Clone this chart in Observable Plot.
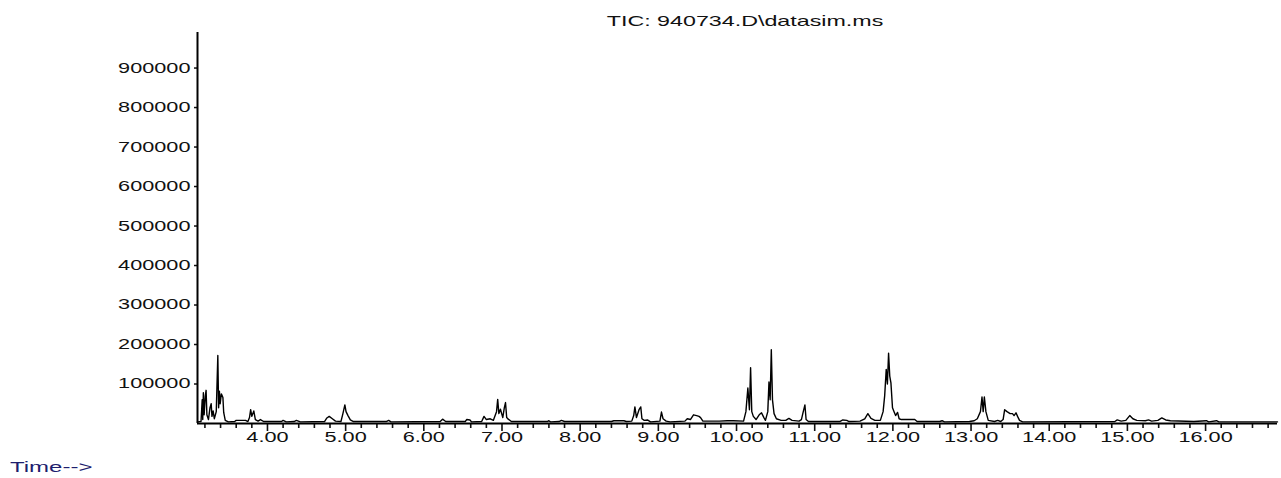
<!DOCTYPE html>
<html><head><meta charset="utf-8">
<script src="https://cdn.jsdelivr.net/npm/d3@7"></script>
<script src="https://cdn.jsdelivr.net/npm/@observablehq/plot@0.6"></script>
<style>
body{margin:0;background:#fff;}
#wrap{position:relative;width:1281px;height:478px;overflow:hidden;font-family:"Liberation Sans",Arial,sans-serif;}
#title{position:absolute;left:745px;top:12px;font-size:15px;line-height:17px;white-space:nowrap;transform:translateX(-50%) scaleX(1.55);color:#111;}
#xlab{position:absolute;left:10px;top:458px;font-size:15px;line-height:17px;white-space:nowrap;transform:scaleX(1.6);transform-origin:left center;color:#1e1e6e;}
</style></head><body>
<div id="wrap"><div id="chart"></div><div id="title">TIC: 940734.D\datasim.ms</div><div id="xlab">Time--&gt;</div></div>
<script>
// Retention times (min) and abundances
const times = [3.105,3.15,3.165,3.172,3.18,3.19,3.205,3.215,3.225,3.245,3.265,3.28,3.29,3.305,3.32,3.345,3.365,3.375,3.385,3.395,3.41,3.43,3.44,3.46,3.50,3.58,3.60,3.72,3.75,3.77,3.785,3.80,3.825,3.845,3.88,3.91,3.95,4.18,4.20,4.24,4.34,4.37,4.42,4.73,4.76,4.79,4.83,4.87,4.94,4.965,4.99,5.005,5.03,5.06,5.10,5.52,5.55,5.58,6.21,6.24,6.28,6.53,6.55,6.59,6.61,6.74,6.77,6.80,6.85,6.89,6.93,6.945,6.96,6.98,7.01,7.03,7.045,7.06,7.08,7.12,7.58,7.60,7.62,7.73,7.76,7.80,8.40,8.43,8.56,8.59,8.66,8.685,8.70,8.72,8.755,8.775,8.79,8.82,8.86,8.90,9.02,9.04,9.06,9.10,9.15,9.34,9.37,9.41,9.45,9.49,9.52,9.54,9.57,9.70,9.78,9.88,9.96,10.09,10.12,10.145,10.165,10.18,10.195,10.215,10.25,10.29,10.32,10.35,10.37,10.40,10.415,10.43,10.445,10.46,10.48,10.51,10.57,10.63,10.67,10.71,10.80,10.83,10.85,10.875,10.89,10.92,11.32,11.36,11.41,11.44,11.58,11.64,11.68,11.72,11.77,11.84,11.875,11.895,11.915,11.93,11.945,11.96,11.975,11.995,12.015,12.035,12.06,12.08,12.11,12.28,12.31,12.60,12.63,12.66,12.98,13.04,13.08,13.12,13.14,13.155,13.17,13.19,13.22,13.30,13.34,13.38,13.41,13.43,13.46,13.50,13.53,13.55,13.575,13.595,13.62,13.66,14.84,14.87,14.92,14.98,15.03,15.07,15.12,15.23,15.27,15.31,15.39,15.44,15.49,15.55,15.85,16.01,16.04,16.14,16.17,16.92];
const intensities = [4000,5000,60000,10000,78000,22000,70000,84000,22000,10000,40000,50000,18000,32000,12000,30000,172000,40000,82000,50000,75000,66000,28000,8000,4000,5000,8000,8000,5000,15000,35000,18000,32000,10000,6000,10000,5000,5000,8000,4000,5000,8000,4000,5000,14000,18000,12000,6000,5000,25000,47000,30000,20000,9000,5000,5000,8000,4000,5000,11000,5000,5000,10000,9000,4000,5000,18000,10000,12000,8000,30000,61000,25000,36000,15000,40000,53000,15000,11000,5000,5000,7000,4000,5000,8000,5000,5000,7000,7000,5000,6000,20000,42000,15000,36000,42000,12000,8000,9000,4000,6000,29000,12000,6000,4000,6000,12000,10000,22000,20000,18000,15000,6000,6000,6000,7000,7000,6000,30000,90000,35000,141000,30000,18000,10000,22000,27000,15000,8000,30000,105000,60000,187000,60000,25000,12000,8000,8000,13000,8000,6000,10000,27000,47000,10000,5000,5000,9000,8000,5000,6000,12000,25000,13000,8000,8000,30000,70000,137000,100000,178000,120000,103000,40000,30000,20000,28000,12000,10000,10000,5000,5000,7000,4000,5000,7000,12000,30000,67000,30000,67000,30000,8000,5000,8000,5000,10000,35000,30000,25000,25000,20000,27000,18000,8000,4000,5000,9000,6000,8000,20000,12000,8000,7000,9000,6000,8000,14000,9000,7000,5000,7000,4000,7000,4000,4000];

// Axis ticks and their labels
const xDomain = [3.105, 16.92];
const yDomain = [0, 990000];
const majorTicks = [4,5,6,7,8,9,10,11,12,13,14,15,16];
const majorTickLabels = ["4.00","5.00","6.00","7.00","8.00","9.00","10.00","11.00","12.00","13.00","14.00","15.00","16.00"];
const minorTicks = d3.range(16, 85).filter(i => i % 5 !== 0).map(i => i / 5);
const yTicks = [100000,200000,300000,400000,500000,600000,700000,800000,900000];
const yTickLabels = ["100000","200000","300000","400000","500000","600000","700000","800000","900000"];

const data = times.map((t, i) => ({t, v: intensities[i]}));

const chart = Plot.plot({
  width: 1281,
  height: 478,
  marginLeft: 197,
  marginRight: 4,
  marginTop: 32,
  marginBottom: 55,
  style: {fontFamily: '"Liberation Sans", Arial, sans-serif', fontSize: "14px", color: "#111", background: "#fff"},
  x: {domain: xDomain, axis: null},
  y: {domain: yDomain, axis: null},
  marks: [
    Plot.axisY(yTicks, {anchor: "left", tickSize: 3, tickPadding: 4, strokeWidth: 1.5, tickFormat: d => yTickLabels[yTicks.indexOf(d)], label: null, fill: "#111"}),
    Plot.axisX(minorTicks, {anchor: "bottom", tickSize: 5, strokeWidth: 1.6, tickFormat: () => "", label: null}),
    Plot.axisX(majorTicks, {anchor: "bottom", tickSize: 8, tickPadding: 1, strokeWidth: 1.6, tickFormat: d => majorTickLabels[majorTicks.indexOf(d)], label: null, fill: "#111"}),
    Plot.ruleY([yDomain[0]], {stroke: "#000", strokeWidth: 2}),
    Plot.ruleX([xDomain[0]], {stroke: "#000", strokeWidth: 2}),
    Plot.line(data, {x: "t", y: "v", stroke: "#000", strokeWidth: 1.4})
  ]
});

// Stretch the labels horizontally, as in the original instrument print-out
chart.querySelectorAll("text").forEach(t => {
  const x = t.getAttribute("x");
  let tr = t.getAttribute("transform") || "";
  if (x !== null && !isNaN(+x)) {
    tr += ` translate(${+x},0)`;
    t.removeAttribute("x");
  }
  t.setAttribute("transform", tr + " scale(1.55,1)");
});

document.getElementById("chart").appendChild(chart);
</script>
</body></html>
